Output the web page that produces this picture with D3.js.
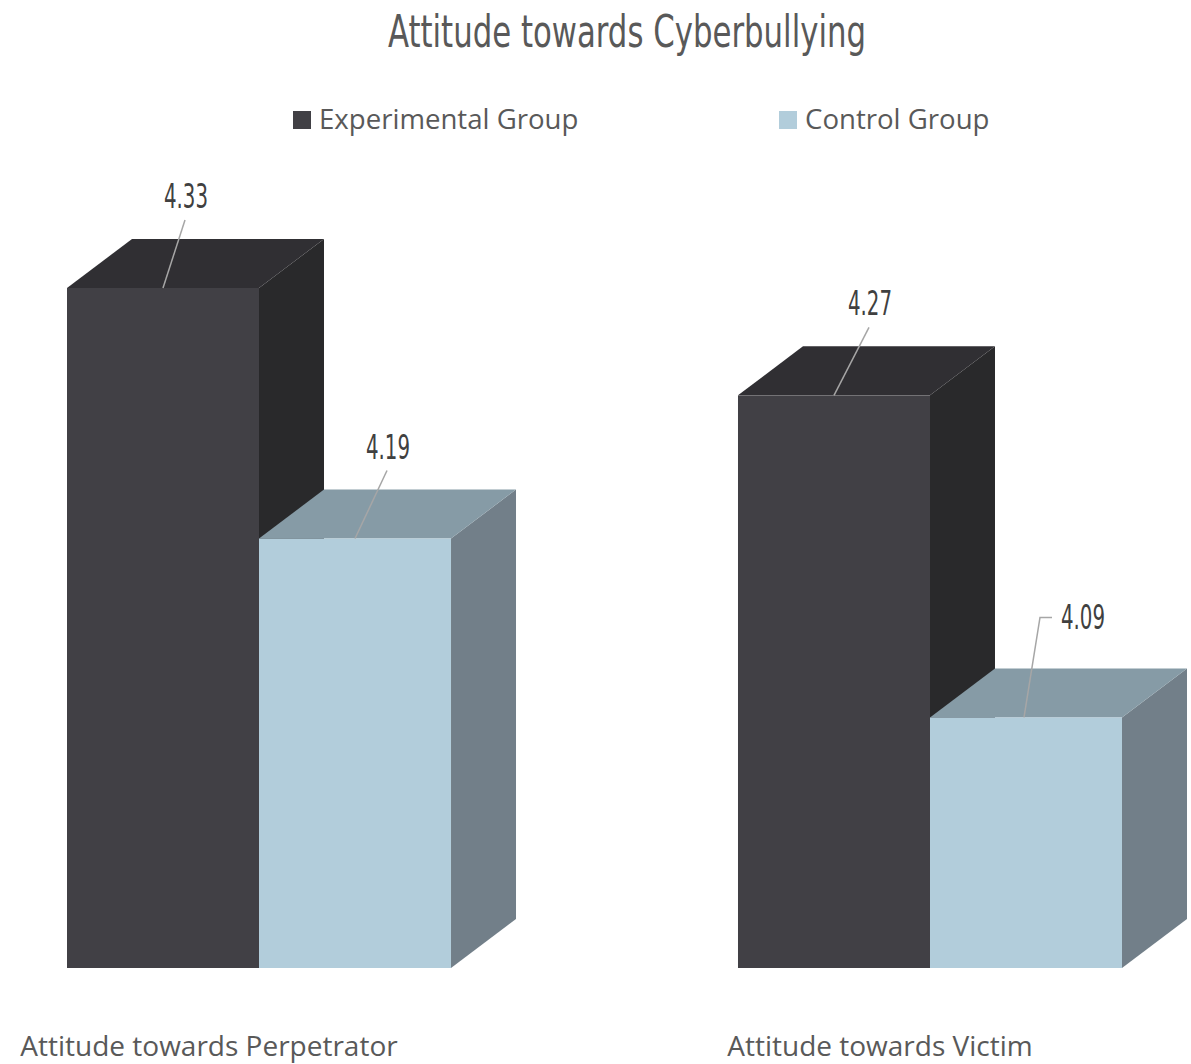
<!DOCTYPE html>
<html>
<head>
<meta charset="utf-8">
<script src="https://cdn.jsdelivr.net/npm/d3@7/dist/d3.min.js"></script>
<style>
  html, body { margin: 0; padding: 0; background: #fff; }
  svg { display: block; }
</style>
</head>
<body>
<svg id="chart" width="1191" height="1064"></svg>
<script>
const title = "Attitude towards Cyberbullying";
const categories = ["Attitude towards Perpetrator", "Attitude towards Victim"];
const seriesNames = ["Experimental Group", "Control Group"];
const experimental = [4.33, 4.27];
const control = [4.19, 4.09];
const valueLabels = [["4.33", "4.27"], ["4.19", "4.09"]];

const W = 1191, H = 1064;
const svg = d3.select("#chart");

const colors = {
  "Experimental Group": { front: "#414045", top: "#302f33", side: "#29292b" },
  "Control Group": { front: "#b2cddb", top: "#869ba6", side: "#727f89" }
};
const depthX = 65, depthY = -49;

const x0 = d3.scaleBand().domain(categories).range([67, 1122]).paddingInner(0.4277).paddingOuter(0);
const x1 = d3.scaleBand().domain(seriesNames).range([0, x0.bandwidth()]).padding(0);
const y = d3.scaleLinear().domain([3.95, 4.33]).range([968, 288]);

const seriesValues = [experimental, control];

// Title
svg.append("text")
  .attr("x", 627).attr("y", 47)
  .attr("text-anchor", "middle")
  .attr("font-family", "'Liberation Sans Narrow', 'DejaVu Sans Condensed', sans-serif")
  .attr("font-size", 44)
  .attr("fill", "#595959")
  .attr("textLength", 478).attr("lengthAdjust", "spacingAndGlyphs")
  .text(title);

// Legend
const legendX = [293, 779];
seriesNames.forEach((s, i) => {
  const g = svg.append("g").attr("transform", `translate(${legendX[i]},111)`);
  g.append("rect").attr("width", 18).attr("height", 18).attr("fill", colors[s].front);
  g.append("text").attr("x", 26).attr("y", 18)
    .attr("font-family", "'Open Sans', 'Noto Sans', sans-serif")
    .attr("font-size", 27.6).attr("fill", "#595959")
    .text(s);
});

// Bars
const bars = [];
categories.forEach((c, ci) => {
  seriesNames.forEach((s, si) => {
    bars.push({ c, s, ci, si, v: seriesValues[si][ci], label: valueLabels[si][ci] });
  });
});

const base = y.range()[0];
const gBars = svg.append("g");
bars.forEach(b => {
  const xl = x0(b.c) + x1(b.s);
  const xr = xl + x1.bandwidth();
  const yt = y(b.v);
  const col = colors[b.s];
  gBars.append("path")
    .attr("d", `M${xr},${yt} L${xr + depthX},${yt + depthY} L${xr + depthX},${base + depthY} L${xr},${base} Z`)
    .attr("fill", col.side);
  gBars.append("path")
    .attr("d", `M${xl},${yt} L${xl + depthX},${yt + depthY} L${xr + depthX},${yt + depthY} L${xr},${yt} Z`)
    .attr("fill", col.top);
  gBars.append("rect")
    .attr("x", xl).attr("y", yt)
    .attr("width", x1.bandwidth()).attr("height", base - yt)
    .attr("fill", col.front);
});

// Data labels with leader lines
const labelDx = [[23, 36], [33, 57]];
bars.forEach(b => {
  const cx = x0(b.c) + x1(b.s) + x1.bandwidth() / 2;
  const yt = y(b.v);
  const dx = labelDx[b.si][b.ci];
  const elbow = (b.si === 1 && b.ci === 1);
  const ty = elbow ? yt - 88 : yt - 80;
  svg.append("text")
    .attr("x", cx + dx).attr("y", ty)
    .attr("text-anchor", "middle")
    .attr("font-family", "'Liberation Sans Narrow', 'DejaVu Sans Condensed', sans-serif")
    .attr("font-size", 33).attr("fill", "#404040")
    .attr("textLength", 44).attr("lengthAdjust", "spacingAndGlyphs")
    .text(b.label);
  let d;
  if (elbow) {
    d = `M${cx + 26},${yt - 100} L${cx + 14},${yt - 100} L${cx - 2},${yt}`;
  } else {
    d = `M${cx + dx - 1},${yt - 68} L${cx},${yt}`;
  }
  svg.append("path").attr("d", d)
    .attr("fill", "none").attr("stroke", "#a6a6a6").attr("stroke-width", 1.5);
});

// Category labels
svg.append("g").selectAll("text").data(categories).join("text")
  .attr("x", d => x0(d) + x0.bandwidth() / 2 - 50)
  .attr("y", 1056)
  .attr("text-anchor", "middle")
  .attr("font-family", "'Open Sans', 'Noto Sans', sans-serif")
  .attr("font-size", 28).attr("fill", "#595959")
  .text(d => d);
</script>
</body>
</html>
